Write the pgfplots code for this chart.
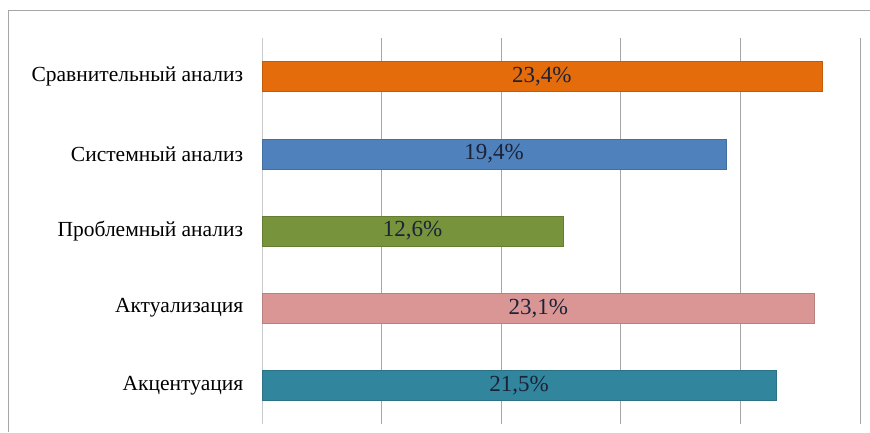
\documentclass[border=0pt]{standalone}
\usepackage{pgfplots}
\pgfplotsset{compat=1.18}
\usepackage{fontspec}
\setmainfont{Liberation Serif}
\definecolor{cOrange}{HTML}{E46C0A}
\definecolor{cBlue}{HTML}{4F81BD}
\definecolor{cGreen}{HTML}{77933C}
\definecolor{cPink}{HTML}{D99694}
\definecolor{cTeal}{HTML}{31859C}
\definecolor{gridc}{HTML}{A6A6A6}
\definecolor{valc}{HTML}{1C2238}
\begin{document}
\begin{tikzpicture}
\useasboundingbox (0,0) rectangle (870pt,432pt);
\fill[white] (0,0) rectangle (870pt,432pt);
\draw[gray!70, line width=1pt] (8pt,0) -- (8pt,421pt) -- (870pt,421pt);
\begin{axis}[
  at={(262pt,8pt)}, anchor=south west, scale only axis,
  width=598pt, height=386pt,
  xmin=0, xmax=25, ymin=0, ymax=5,
  xbar, bar width=30pt, bar shift=0pt,
  separate axis lines,
  axis x line*=bottom, x axis line style={draw=none},
  axis y line*=left, y axis line style={draw=gridc!60, line width=0.8pt},
  xtick={5,10,15,20,25}, xticklabels={}, major x tick style={draw=none},
  xmajorgrids, major grid style={draw=gridc, line width=0.9pt},
  ytick={0.5,1.5,2.5,3.5,4.5},
  yticklabels={Акцентуация,Актуализация,Проблемный анализ,Системный анализ,Сравнительный анализ},
  major y tick style={draw=none},
  extra y ticks={0,1,2,3,4,5}, extra y tick labels={},
  extra y tick style={major tick length=5pt, tick align=outside, major tick style={draw=gridc!70, line width=0.8pt}, grid=none},
  yticklabel style={font=\fontsize{21.5}{25}\selectfont, xshift=-11pt, text=black},
  /pgf/number format/assume math mode=true,
  visualization depends on={rawx \as \rawx},
  nodes near coords={\pgfmathprintnumber[fixed,precision=1,fixed zerofill,use comma]{\pgfplotspointmeta}\%},
  point meta=x,
  every node near coord/.append style={anchor=center, xshift={-\rawx*11.96pt}, font=\fontsize{23}{26}\selectfont, text=valc},
  clip=false,
]
\addplot[fill=cOrange, draw=cOrange!85!black] coordinates {(23.4,4.5)};
\addplot[fill=cBlue, draw=cBlue!85!black] coordinates {(19.4,3.5)};
\addplot[fill=cGreen, draw=cGreen!85!black] coordinates {(12.6,2.5)};
\addplot[fill=cPink, draw=cPink!85!black] coordinates {(23.1,1.5)};
\addplot[fill=cTeal, draw=cTeal!85!black] coordinates {(21.5,0.5)};
\end{axis}
\end{tikzpicture}
\end{document}
